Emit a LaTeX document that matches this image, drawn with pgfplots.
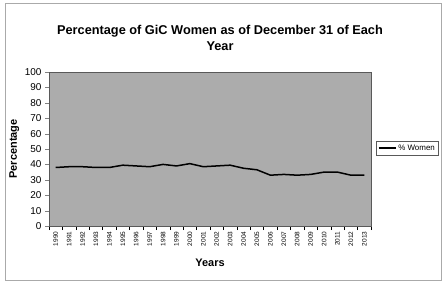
\documentclass[border=0pt]{standalone}
\usepackage{pgfplots}
\pgfplotsset{compat=1.18}
\usepackage{fontspec}
\setmainfont{Liberation Sans}
\definecolor{plotbg}{RGB}{172,172,172}
\definecolor{framec}{RGB}{170,170,170}
\begin{document}
\begin{tikzpicture}[x=1bp,y=1bp]
\useasboundingbox[fill=white] (0,0) rectangle (446,283);
\draw[framec, line width=0.8bp] (5,3) rectangle (441,280);
\begin{axis}[
  at={(49bp,57bp)}, anchor=south west,
  scale only axis, width=322bp, height=154bp,
  xmin=-0.5, xmax=23.5, ymin=0, ymax=100,
  ytick={0,10,...,100},
  xtick={0,...,23},
  xticklabels={1990,1991,1992,1993,1994,1995,1996,1997,1998,1999,2000,2001,2002,2003,2004,2005,2006,2007,2008,2009,2010,2011,2012,2013},
  x tick label style={rotate=90, anchor=east, font=\fontsize{6.5}{7}\selectfont, inner sep=1.5bp},
  y tick label style={font=\fontsize{10}{12}\selectfont},
  major x tick style={draw=none},
  minor xtick={-0.5,0.5,...,23.5},
  minor x tick style={black, thin},
  tick align=outside,
  ytick pos=left, xtick pos=bottom,
  major tick length=4bp, minor tick length=4bp,
  axis background/.style={fill=plotbg},
  axis line style={draw=gray!70!black, line width=0.6bp},
  /pgf/number format/assume math mode=true,
  ylabel={\textbf{Percentage}}, ylabel style={font=\fontsize{11}{13}\selectfont, at={(-0.082,0.5)}},
  xlabel={\textbf{Years}}, xlabel style={font=\fontsize{11}{13}\selectfont, at={(0.5,-0.19)}},
  legend style={at={(1.0155,0.505)}, anchor=west, font=\fontsize{8}{9}\selectfont, draw=gray!70!black, line width=0.5bp, inner sep=1.5bp, fill=white},
  legend cell align=left,
]
\addplot[black, line width=1.5bp] coordinates {
(0,38) (1,38.5) (2,38.5) (3,38) (4,38) (5,39.5) (6,39) (7,38.5) (8,40) (9,39) (10,40.5) (11,38.5) (12,39) (13,39.5) (14,37.5) (15,36.5) (16,33) (17,33.5) (18,33) (19,33.5) (20,35) (21,35) (22,33) (23,33)
};
\addlegendentry{\% Women}
\end{axis}
\node[font=\bfseries\fontsize{12.8}{16}\selectfont, align=center] at (220,245) {Percentage of GiC Women as of December 31 of Each\\Year};
\end{tikzpicture}
\end{document}
